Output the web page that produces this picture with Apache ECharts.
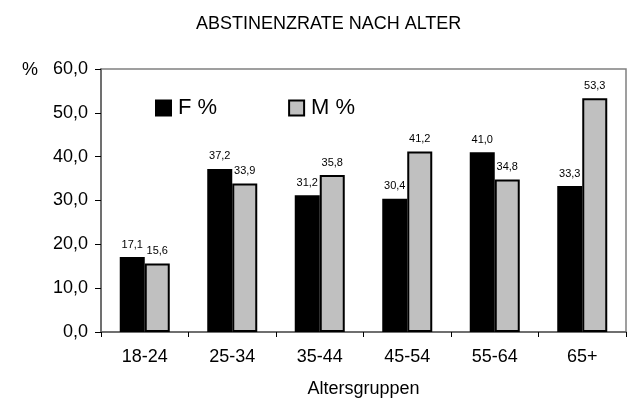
<!DOCTYPE html>
<html>
<head>
<meta charset="utf-8">
<script src="https://cdn.jsdelivr.net/npm/echarts@6/dist/echarts.min.js"></script>
<style>
html,body{margin:0;padding:0;background:#fff;}
#c{width:630px;height:403px;}
</style>
</head>
<body>
<div id="c"></div>
<script>
const categories = ['18-24', '25-34', '35-44', '45-54', '55-64', '65+'];
const femaleValues = [17.1, 37.2, 31.2, 30.4, 41.0, 33.3];
const maleValues = [15.6, 33.9, 35.8, 41.2, 34.8, 53.3];
const yTicks = [0, 10, 20, 30, 40, 50, 60];

const FONT = 'Arial, "Liberation Sans", sans-serif';
const fmt = v => Number(v).toFixed(1).replace('.', ',');

const chart = echarts.init(document.getElementById('c'), null, {renderer: 'canvas'});
chart.setOption({
  animation: false,
  backgroundColor: '#fff',
  textStyle: {fontFamily: FONT, color: '#000'},
  title: {
    text: 'ABSTINENZRATE NACH ALTER',
    left: 191, top: 10,
    textStyle: {fontFamily: FONT, fontSize: 18, fontWeight: 'normal', color: '#000'}
  },
  graphic: [{
    type: 'text', left: 22, top: 61,
    style: {text: '%', font: '18px ' + FONT, fill: '#000'}
  }],
  legend: {
    left: 150, top: 92,
    itemWidth: 15, itemHeight: 15, itemGap: 71,
    icon: 'rect',
    textStyle: {fontFamily: FONT, fontSize: 22, color: '#000', padding: [0, 0, 0, 2]},
    data: ['F %', 'M %']
  },
  grid: {
    left: 101, right: 4, top: 69, bottom: 67,
    show: true, borderColor: '#808080', borderWidth: 1.5, backgroundColor: '#fff'
  },
  xAxis: {
    type: 'category',
    data: categories,
    name: 'Altersgruppen',
    nameLocation: 'middle',
    nameGap: 48,
    nameTextStyle: {fontFamily: FONT, fontSize: 18, color: '#000'},
    axisLine: {lineStyle: {color: '#606060', width: 1.5}},
    axisTick: {show: true, length: 5, lineStyle: {color: '#000'}},
    axisLabel: {fontFamily: FONT, fontSize: 18, color: '#000', margin: 16}
  },
  yAxis: {
    type: 'value',
    min: yTicks[0], max: yTicks[yTicks.length - 1], interval: 10,
    axisLine: {show: true, lineStyle: {color: '#606060', width: 1.5}},
    axisTick: {show: true, length: 6, lineStyle: {color: '#000'}},
    splitLine: {show: false},
    axisLabel: {fontFamily: FONT, fontSize: 18, color: '#000', margin: 13, formatter: fmt}
  },
  series: [
    {
      name: 'F %', type: 'bar', data: femaleValues,
      barWidth: 25, barGap: '0%',
      itemStyle: {color: '#000', borderColor: '#000', borderWidth: 1.5},
      label: {show: true, position: 'top', distance: 7, fontFamily: FONT, fontSize: 11, color: '#000', formatter: p => fmt(p.value)}
    },
    {
      name: 'M %', type: 'bar', data: maleValues,
      barWidth: 25, barGap: '0%',
      itemStyle: {color: '#c0c0c0', borderColor: '#000', borderWidth: 2},
      label: {show: true, position: 'top', distance: 7, fontFamily: FONT, fontSize: 11, color: '#000', formatter: p => fmt(p.value)}
    }
  ]
});
</script>
</body>
</html>
